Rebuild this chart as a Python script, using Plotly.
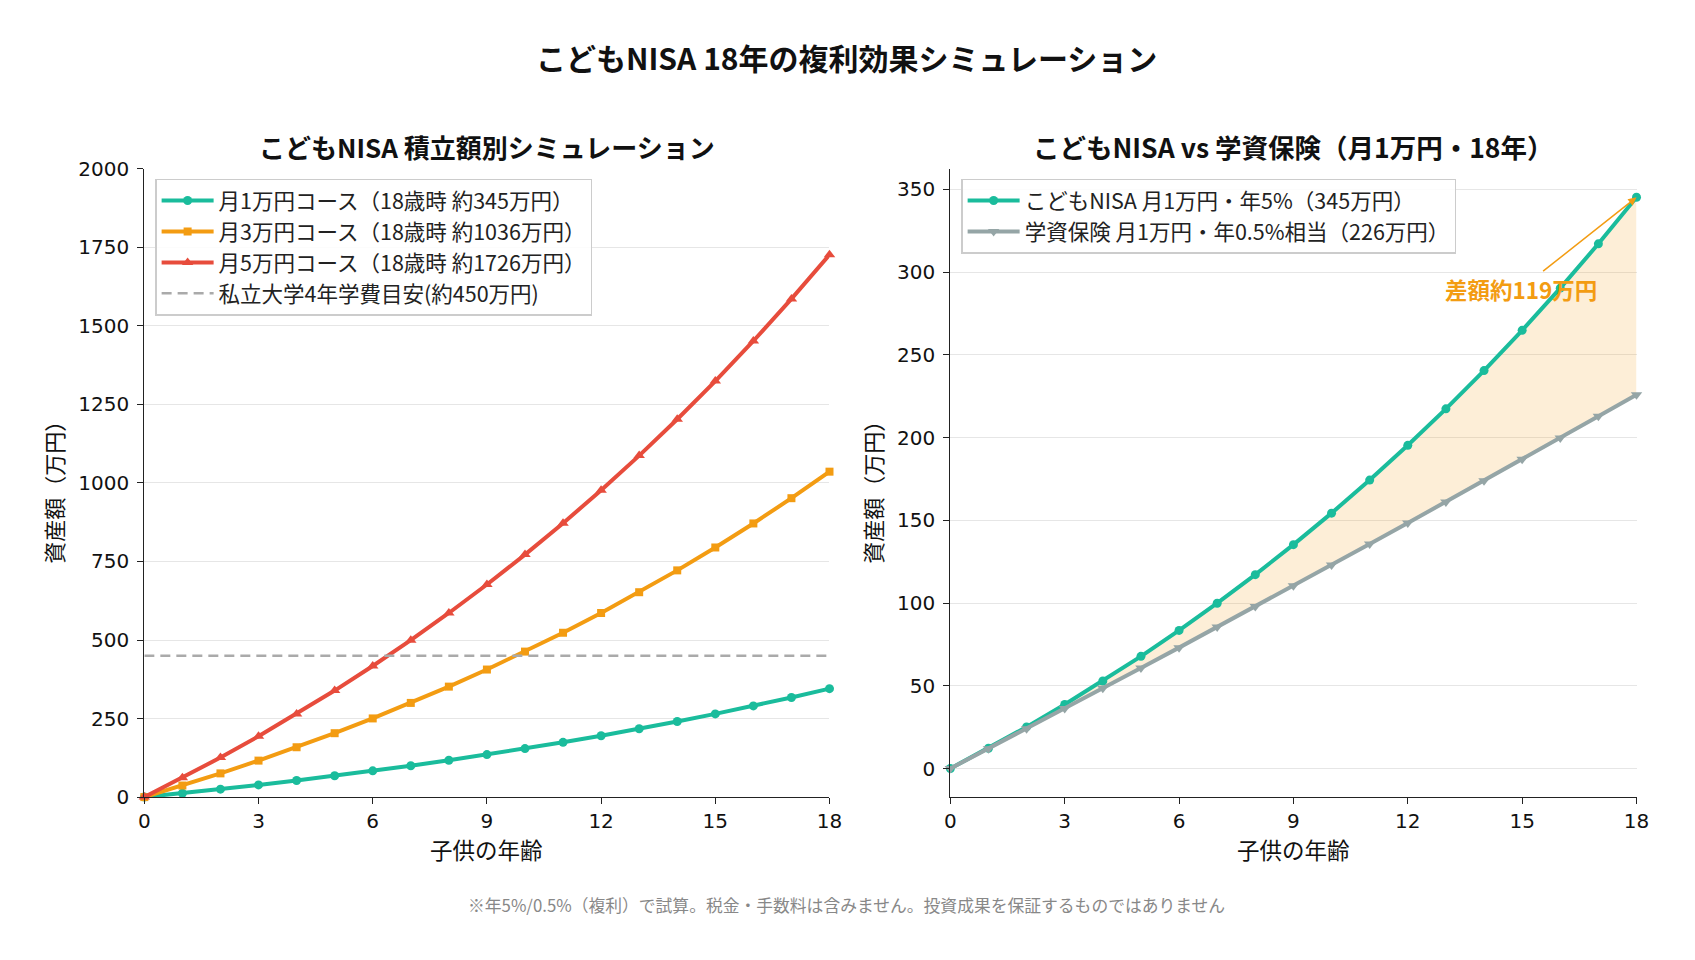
import plotly.graph_objects as go

ages = list(range(19))
nisa_1 = [0, 12.27, 25.16, 38.69, 52.90, 67.81, 83.48, 99.92, 117.19, 135.32, 154.36,
          174.35, 195.34, 217.38, 240.52, 264.83, 290.34, 317.13, 345.25]
nisa_3 = [0, 36.8, 75.5, 116.1, 158.7, 203.4, 250.4, 299.8, 351.6, 406.0, 463.1,
          523.1, 586.0, 652.1, 721.6, 794.5, 871.0, 951.4, 1035.8]
nisa_5 = [0, 61.4, 125.8, 193.5, 264.5, 339.1, 417.4, 499.6, 586.0, 676.6, 771.8,
          871.8, 976.7, 1086.9, 1202.6, 1324.2, 1451.7, 1585.7, 1726.3]
insurance = [0, 12.03, 24.12, 36.26, 48.47, 60.74, 73.07, 85.47, 97.92, 110.44, 123.02,
             135.66, 148.37, 161.14, 173.97, 186.87, 199.83, 212.86, 225.95]
tuition = 450

left_names = ["月1万円コース（18歳時 約345万円）", "月3万円コース（18歳時 約1036万円）",
              "月5万円コース（18歳時 約1726万円）", "私立大学4年学費目安(約450万円)"]
right_names = ["こどもNISA 月1万円・年5%（345万円）", "学資保険 月1万円・年0.5%相当（226万円）"]
x_ticks = [0, 3, 6, 9, 12, 15, 18]

GREEN = "#1abc9c"
ORANGE = "#f39c12"
RED = "#e74c3c"
GRAY = "#95a5a6"
FONT = "Noto Sans CJK JP"
TICKFONT = "DejaVu Sans"
W, H = 1695, 960

LW = 4
MS = 9


def px(xf):
    # target pixel (reference) -> paper fraction, with calibration for the capture
    return ((xf - 5.5) / 0.990) / W


def py(yf):
    return 1 - ((yf - 11.1) / 0.976) / H


fig = go.Figure()

# Left panel
for ys, col, sym, sz, nm in [(nisa_1, GREEN, "circle", MS, left_names[0]),
                             (nisa_3, ORANGE, "square", MS - 1, left_names[1]),
                             (nisa_5, RED, "triangle-up", MS + 1, left_names[2])]:
    fig.add_trace(go.Scatter(x=ages, y=ys, mode="lines+markers", name=nm,
                             line=dict(color=col, width=LW),
                             marker=dict(symbol=sym, size=sz, color=col),
                             cliponaxis=False, legend="legend",
                             xaxis="x", yaxis="y"))
fig.add_trace(go.Scatter(x=[0, 18], y=[tuition, tuition], mode="lines", name=left_names[3],
                         line=dict(color="#aaaaaa", width=2.5, dash="10px,6px"), legend="legend",
                         xaxis="x", yaxis="y"))

# Right panel: fill between
fig.add_trace(go.Scatter(x=ages, y=insurance, mode="lines", line=dict(width=0, color=GRAY),
                         showlegend=False, hoverinfo="skip", xaxis="x2", yaxis="y2"))
fig.add_trace(go.Scatter(x=ages, y=nisa_1, mode="lines", line=dict(width=0, color=ORANGE),
                         fill="tonexty", fillcolor="rgba(243,156,18,0.17)",
                         showlegend=False, hoverinfo="skip", xaxis="x2", yaxis="y2"))
fig.add_trace(go.Scatter(x=ages, y=nisa_1, mode="lines+markers", name=right_names[0],
                         line=dict(color=GREEN, width=LW),
                         marker=dict(symbol="circle", size=MS, color=GREEN),
                         cliponaxis=False, legend="legend2",
                         xaxis="x2", yaxis="y2"))
fig.add_trace(go.Scatter(x=ages, y=insurance, mode="lines+markers", name=right_names[1],
                         line=dict(color=GRAY, width=LW),
                         marker=dict(symbol="triangle-down", size=MS + 1, color=GRAY),
                         cliponaxis=False, legend="legend2",
                         xaxis="x2", yaxis="y2"))

axis_common = dict(showline=True, linecolor="#222222", linewidth=1.4, ticks="outside",
                   ticklen=6, tickwidth=1.4, tickcolor="#222222", mirror=False,
                   tickfont=dict(family=TICKFONT, size=20, color="#111111"), zeroline=False)

LX0, LX1, RX0, RX1 = px(144), px(830), px(951), px(1638)
YB, YT = py(797), py(168)

legend_common = dict(xanchor="left", yanchor="top", traceorder="normal",
                     bgcolor="rgba(255,255,255,0.85)", bordercolor="#cccccc", borderwidth=1.3,
                     font=dict(family=FONT, size=21.5, color="#222222"), tracegroupgap=0,
                     itemwidth=52)

fig.update_layout(
    width=W, height=H, autosize=False,
    margin=dict(l=0, r=0, t=0, b=0, pad=0),
    paper_bgcolor="white", plot_bgcolor="white",
    font=dict(family=FONT, color="#222222"),
    xaxis=dict(domain=[LX0, LX1], range=[0, 18], tickvals=x_ticks, showgrid=False,
               anchor="y", **axis_common),
    yaxis=dict(domain=[YB, YT], range=[0, 2000], tickvals=list(range(0, 2001, 250)),
               showgrid=True, gridcolor="#e6e6e6", gridwidth=1.3, ticklabelstandoff=4,
               anchor="x", **axis_common),
    xaxis2=dict(domain=[RX0, RX1], range=[0, 18], tickvals=x_ticks, showgrid=False,
                anchor="y2", **axis_common),
    yaxis2=dict(domain=[YB, YT], range=[-17.26, 362.5], tickvals=list(range(0, 351, 50)),
                showgrid=True, gridcolor="#e6e6e6", gridwidth=1.3, ticklabelstandoff=4,
                anchor="x2", **axis_common),
    legend=dict(x=px(155), y=py(178), **legend_common),
    legend2=dict(x=px(962), y=py(178), **legend_common),
    showlegend=True,
    annotations=[
        dict(text="こどもNISA 18年の複利効果シミュレーション", x=px(847.5), y=py(56),
             xref="paper", yref="paper", showarrow=False, xanchor="center", yanchor="middle",
             font=dict(family=FONT, size=30, color="#111111", weight="bold")),
        dict(text="こどもNISA 積立額別シミュレーション", x=(LX0 + LX1) / 2, y=py(146),
             xref="paper", yref="paper", showarrow=False, xanchor="center", yanchor="middle",
             font=dict(family=FONT, size=26, color="#111111", weight="bold")),
        dict(text="こどもNISA vs 学資保険（月1万円・18年）", x=(RX0 + RX1) / 2, y=py(146),
             xref="paper", yref="paper", showarrow=False, xanchor="center", yanchor="middle",
             font=dict(family=FONT, size=26.5, color="#111111", weight="bold")),
        dict(text="子供の年齢", x=(LX0 + LX1) / 2, y=py(849), xref="paper", yref="paper",
             showarrow=False, xanchor="center", yanchor="middle",
             font=dict(family=FONT, size=22.5, color="#111111")),
        dict(text="子供の年齢", x=(RX0 + RX1) / 2, y=py(849), xref="paper", yref="paper",
             showarrow=False, xanchor="center", yanchor="middle",
             font=dict(family=FONT, size=22.5, color="#111111")),
        dict(text="資産額（万円）", x=px(53), y=py(486), xref="paper", yref="paper",
             showarrow=False, xanchor="center", yanchor="middle", textangle=-90,
             font=dict(family=FONT, size=22, color="#111111")),
        dict(text="資産額（万円）", x=px(873), y=py(486), xref="paper", yref="paper",
             showarrow=False, xanchor="center", yanchor="middle", textangle=-90,
             font=dict(family=FONT, size=22, color="#111111")),
        dict(text="※年5%/0.5%（複利）で試算。税金・手数料は含みません。投資成果を保証するものではありません",
             x=px(847.5), y=py(905), xref="paper", yref="paper", showarrow=False,
             xanchor="center", yanchor="middle", font=dict(family=FONT, size=16.8, color="#888888")),
        dict(text="差額約119万円", x=18, y=nisa_1[-1], xref="x2", yref="y2",
             ax=14.97, ay=290, axref="x2", ayref="y2", showarrow=True,
             arrowhead=2, arrowsize=1.1, arrowwidth=1.5, arrowcolor=ORANGE,
             font=dict(family=FONT, size=22.5, color=ORANGE, weight="bold")),
    ],
)

fig.write_html("out.html")
